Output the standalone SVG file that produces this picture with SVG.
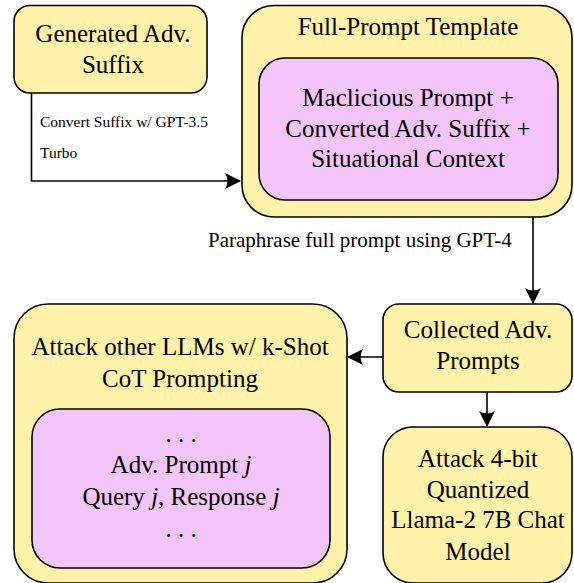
<svg xmlns="http://www.w3.org/2000/svg" width="574" height="583" viewBox="0 0 574 583">
<style>
.y{fill:#FFF2AB;stroke:#000;stroke-width:1.6}
.p{fill:#F3C5FB;stroke:#000;stroke-width:1.6}
text{font-family:"Liberation Serif","Times New Roman",serif;fill:#000}
.t{font-size:25px;text-anchor:middle}
.m{font-size:21px}
.s{font-size:15.5px}
.c{fill:none;stroke:#000;stroke-width:1.6}
</style>
<defs>
<marker id="ah" viewBox="0 0 16 16" refX="15" refY="8" markerWidth="16" markerHeight="16" markerUnits="userSpaceOnUse" orient="auto">
<path d="M16,8 L0,0 Q5,8 0,16 Z" fill="#000"/>
</marker>
</defs>
<g id="connectors">
<path class="c" d="M31.5,93 V181 H240" marker-end="url(#ah)"/>
<text class="s" x="40" y="127">Convert Suffix w/ GPT-3.5</text>
<text class="s" x="40" y="158">Turbo</text>
<path class="c" d="M533,217 V303" marker-end="url(#ah)"/>
<text class="m" x="208" y="247">Paraphrase full prompt using GPT-4</text>
<path class="c" d="M383,357 H348" marker-end="url(#ah)"/>
<path class="c" d="M487,392 V426" marker-end="url(#ah)"/>
</g>
<g id="suffix">
<rect class="y" x="14" y="5.5" width="193" height="87.5" rx="16"/>
<text class="t" x="113" y="42">Generated Adv.</text>
<text class="t" x="113" y="73">Suffix</text>
</g>
<g id="template">
<rect class="y" x="242" y="5.5" width="330" height="211.5" rx="32"/>
<text class="t" x="408" y="35">Full-Prompt Template</text>
<g id="template-inner">
<rect class="p" x="259" y="58" width="299" height="142" rx="26"/>
<text class="t" x="408" y="106">Maclicious Prompt +</text>
<text class="t" x="408" y="137">Converted Adv. Suffix +</text>
<text class="t" x="408" y="167">Situational Context</text>
</g>
</g>
<g id="collected">
<rect class="y" x="383" y="304" width="189" height="88" rx="16"/>
<text class="t" x="478" y="338">Collected Adv.</text>
<text class="t" x="478" y="369">Prompts</text>
</g>
<g id="attack-others">
<rect class="y" x="14" y="304" width="333" height="279" rx="34"/>
<text class="t" x="180" y="355">Attack other LLMs w/ k-Shot</text>
<text class="t" x="180" y="387">CoT Prompting</text>
<g id="attack-inner">
<rect class="p" x="32" y="409" width="298" height="159" rx="28"/>
<text class="t" x="181" y="442">. . .</text>
<text class="t" x="181" y="473">Adv. Prompt <tspan font-style="italic">j</tspan></text>
<text class="t" x="181" y="505">Query <tspan font-style="italic">j</tspan>, Response <tspan font-style="italic">j</tspan></text>
<text class="t" x="181" y="537">. . .</text>
</g>
</g>
<g id="attack-llama">
<rect class="y" x="383" y="427" width="189" height="156" rx="30"/>
<text class="t" x="478" y="467">Attack 4-bit</text>
<text class="t" x="478" y="498">Quantized</text>
<text class="t" x="478" y="528">Llama-2 7B Chat</text>
<text class="t" x="478" y="560">Model</text>
</g>
</svg>
